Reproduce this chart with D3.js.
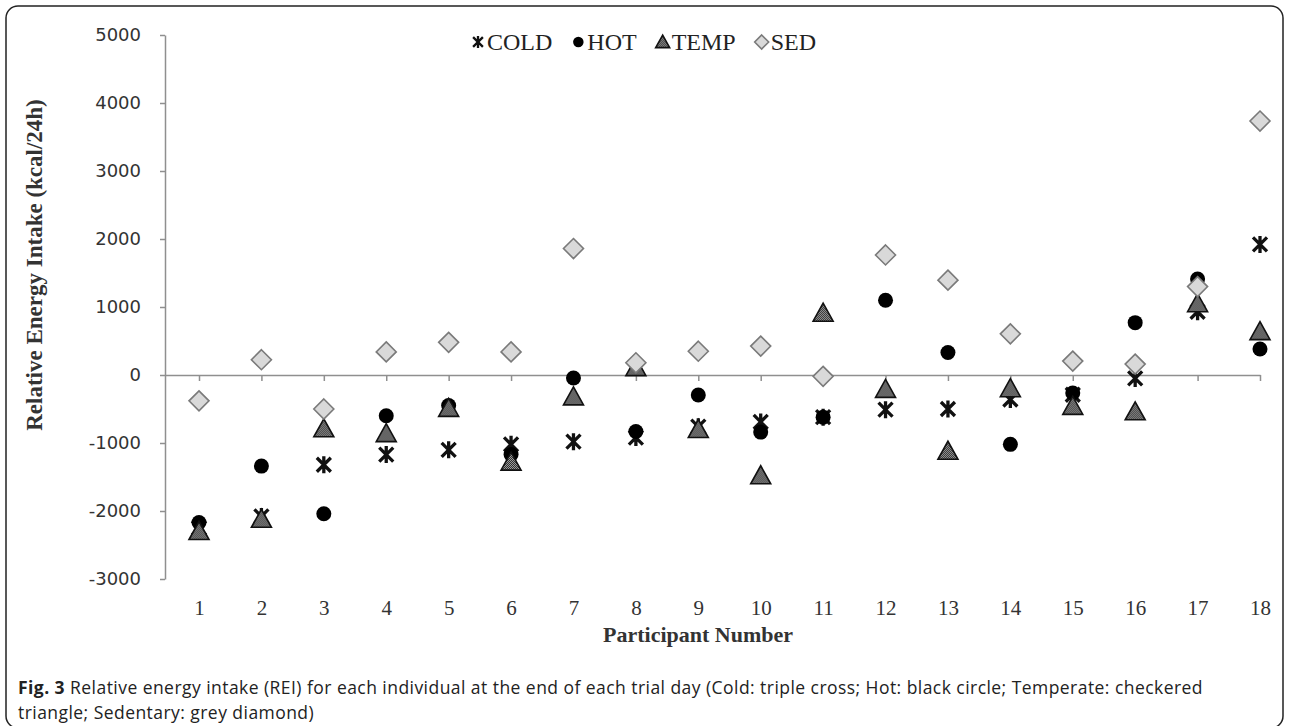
<!DOCTYPE html>
<html>
<head>
<meta charset="utf-8">
<script src="https://cdn.jsdelivr.net/npm/d3@7/dist/d3.min.js"></script>
<style>
  html, body { margin: 0; padding: 0; background: #fff; }
  svg { display: block; }
</style>
</head>
<body>
<svg id="chart" width="1289" height="726"></svg>
<script>
// ---- Data ----
const participants = [1,2,3,4,5,6,7,8,9,10,11,12,13,14,15,16,17,18];
const cold = [-2250,-2080,-1320,-1170,-1100,-1020,-980,-920,-760,-690,-620,-510,-500,-360,-290,-50,930,1920];
const hot  = [-2170,-1340,-2040,-600,-450,-1170,-45,-830,-295,-840,-620,1100,330,-1020,-265,770,1410,382];
const temp = [-2300,-2120,-790,-860,-490,-1280,-320,110,-800,-1480,910,-210,-1120,-200,-460,-540,1050,640];
const sed  = [-380,225,-500,340,480,340,1860,180,350,425,-20,1765,1395,605,205,160,1300,3735];
const yTicks = [-3000,-2000,-1000,0,1000,2000,3000,4000,5000];
const seriesNames = ["COLD","HOT","TEMP","SED"];
const yTitle = "Relative Energy Intake (kcal/24h)";
const xTitle = "Participant Number";
const captionBold = "Fig. 3";
const captionLine1 = " Relative energy intake (REI) for each individual at the end of each trial day (Cold: triple cross; Hot: black circle; Temperate: checkered";
const captionLine2 = "triangle; Sedentary: grey diamond)";

// ---- Setup ----
const svg = d3.select("#chart");
const W = 1289, H = 726;
const axisX = 165;
const serif = "'Liberation Serif', 'Times New Roman', serif";

const defs = svg.append("defs");
const pat = defs.append("pattern").attr("id","checker")
  .attr("width",2).attr("height",2).attr("patternUnits","userSpaceOnUse");
pat.append("rect").attr("width",2).attr("height",2).attr("fill","#a8a8a8");
pat.append("rect").attr("width",1).attr("height",1).attr("fill","#222");
pat.append("rect").attr("x",1).attr("y",1).attr("width",1).attr("height",1).attr("fill","#222");

// Frame
svg.append("rect").attr("x",6).attr("y",6).attr("width",W-12).attr("height",H-4)
  .attr("rx",12).attr("fill","none").attr("stroke","#222").attr("stroke-width",1.5);

const y = d3.scaleLinear().domain([-3000,5000]).range([579,35]);
const x = d3.scaleLinear().domain([1,18]).range([199,1260]);
const xAxisStart = x.invert(axisX);
const xa = d3.scaleLinear().domain([xAxisStart,18]).range([axisX, x(18)]);

// Y axis
const gy = svg.append("g").attr("transform",`translate(${axisX},0)`)
  .call(d3.axisLeft(y).tickValues(yTicks).tickSize(5).tickSizeOuter(0).tickPadding(19).tickFormat(d => String(d)));
gy.select(".domain").attr("stroke","#8f8f8f").attr("stroke-width",1.5);
gy.selectAll(".tick line").attr("stroke","#8f8f8f").attr("stroke-width",1.5);
gy.selectAll("text").attr("font-family","'DejaVu Sans', Verdana, sans-serif")
  .attr("font-size",18).attr("fill","#333");

// X axis at zero line (ticks only)
const gx = svg.append("g").attr("transform",`translate(0,${y(0)})`)
  .call(d3.axisBottom(xa).tickValues(participants).tickSize(6).tickSizeOuter(0).tickFormat(""));
gx.select(".domain").attr("stroke","#8f8f8f").attr("stroke-width",1.5);
gx.selectAll(".tick line").attr("stroke","#8f8f8f").attr("stroke-width",1.5);

// X labels at bottom
const gxl = svg.append("g").attr("transform",`translate(0,597)`)
  .call(d3.axisBottom(xa).tickValues(participants).tickSize(0).tickPadding(3).tickFormat(d => String(d)));
gxl.select(".domain").remove();
gxl.selectAll("text").attr("font-family",serif).attr("font-size",21).attr("fill","#333");

// Axis titles
svg.append("text").attr("transform",`translate(42,265) rotate(-90)`)
  .attr("text-anchor","middle").attr("font-family",serif).attr("font-weight","bold")
  .attr("font-size",23).attr("fill","#333").text(yTitle);
svg.append("text").attr("x",698).attr("y",642).attr("text-anchor","middle")
  .attr("font-family",serif).attr("font-weight","bold").attr("font-size",22).attr("fill","#333").text(xTitle);

// Marker shapes
function drawMarker(g, type, s) {
  if (type === "COLD") {
    const a = 7*s, b = 8.5*s;
    g.append("path").attr("d",`M${-a},${-a}L${a},${a}M${-a},${a}L${a},${-a}M0,${-b}L0,${b}`)
      .attr("stroke","#111").attr("stroke-width",3.3*s).attr("fill","none");
  } else if (type === "HOT") {
    g.append("circle").attr("r",7.5*s).attr("fill","#000");
  } else if (type === "TEMP") {
    const w = 20*s, h = 18*s;
    g.append("path").attr("d",`M0,${-h*0.55}L${w/2},${h*0.45}L${-w/2},${h*0.45}Z`)
      .attr("fill","url(#checker)").attr("stroke","#111").attr("stroke-width",1.6);
  } else {
    const d = 10*s;
    g.append("path").attr("d",`M0,${-d}L${d},0L0,${d}L${-d},0Z`)
      .attr("fill","#d9d9d9").attr("stroke","#7a7a7a").attr("stroke-width",1.6);
  }
}

const series = [
  {name:"COLD", values:cold},
  {name:"HOT", values:hot},
  {name:"TEMP", values:temp},
  {name:"SED", values:sed}
];
const plot = svg.append("g");
series.forEach(s => {
  s.values.forEach((v,i) => {
    const g = plot.append("g").attr("transform",`translate(${x(participants[i])},${y(v)})`);
    drawMarker(g, s.name, 1);
  });
});

// Legend
const leg = svg.append("g").attr("transform","translate(0,42)");
let lx = 478;
seriesNames.forEach((n,i) => {
  const mg = leg.append("g").attr("transform",`translate(${lx},0)`);
  drawMarker(mg, n, 0.7);
  const t = leg.append("text").attr("x",lx+9).attr("y",8).attr("font-family",serif)
    .attr("font-size",24).attr("fill","#222").text(n);
  lx = lx + 9 + t.node().getComputedTextLength() + 26;
});

// Caption
const sans = "'Open Sans', 'Noto Sans', sans-serif";
const c1 = svg.append("text").attr("x",18).attr("y",694).attr("font-family",sans).attr("font-size",17.5)
  .attr("letter-spacing",0.45).attr("fill","#222");
c1.append("tspan").attr("font-weight","bold").text(captionBold);
c1.append("tspan").text(captionLine1);
svg.append("text").attr("x",18).attr("y",719).attr("font-family",sans).attr("font-size",17.5)
  .attr("letter-spacing",0.45).attr("fill","#222").text(captionLine2);
</script>
</body>
</html>
